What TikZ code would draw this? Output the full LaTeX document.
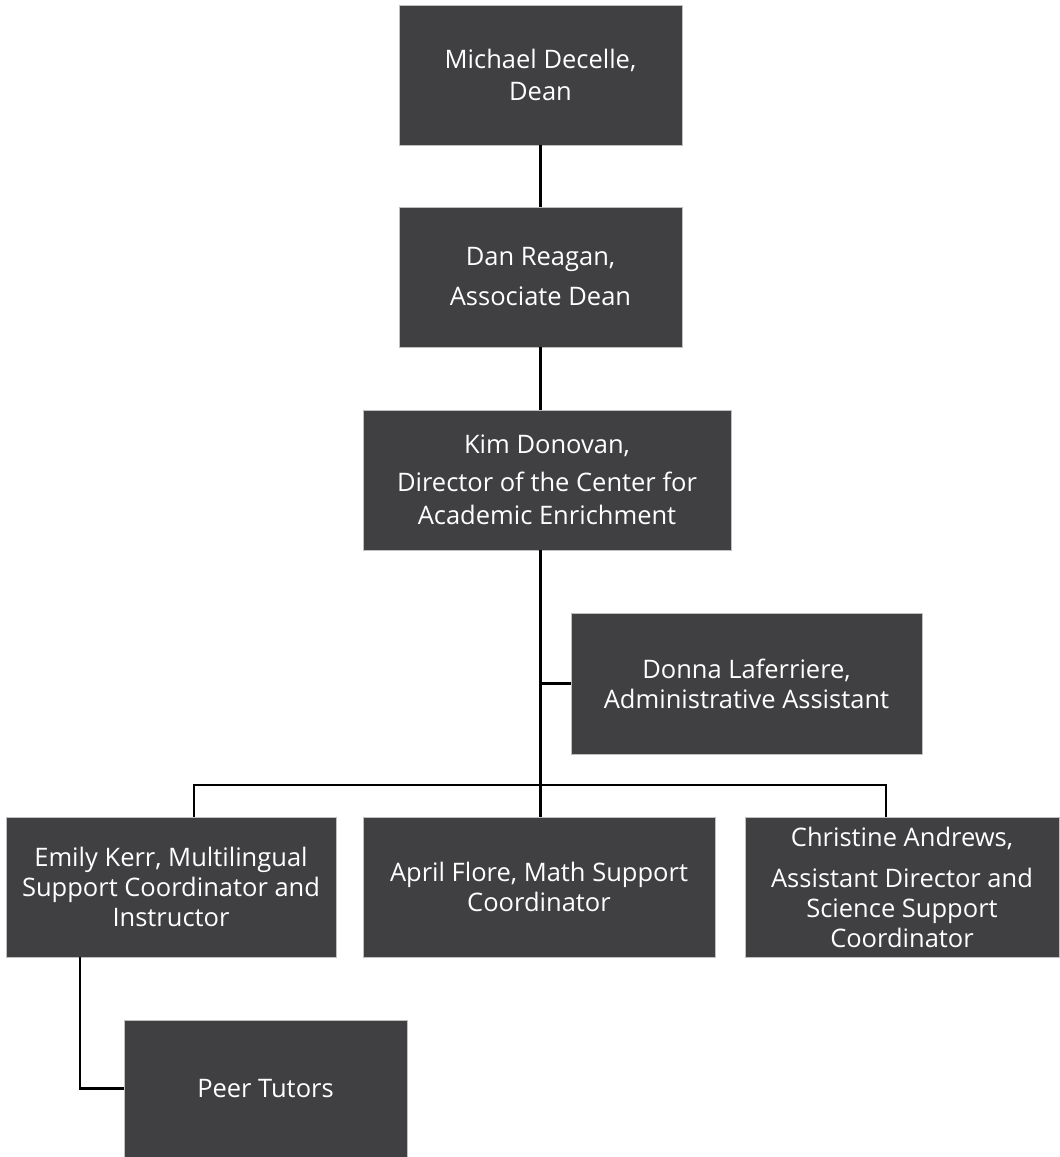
\documentclass[tikz,border=0pt]{standalone}
\usepackage{fontspec}
\setmainfont{Open Sans}
\definecolor{boxgray}{RGB}{64,64,66}
\begin{document}
\begin{tikzpicture}[x=1pt, y=-1pt,
  person/.style={fill=boxgray, draw=gray!50, line width=0.5pt, text=white,
    align=center, inner sep=0pt, minimum height=140pt,
    font=\fontsize{25.5}{30}\selectfont},
  link/.style={line width=2.4pt}]

  \useasboundingbox (0,0) rectangle (1060,1157);

  \node[person, minimum width=283pt] (dean) at (540.5,75) {Michael Decelle,\\[2pt]Dean};
  \node[person, minimum width=283pt] (assoc) at (540.5,277) {Dan Reagan,\\[10pt]Associate Dean};
  \node[person, minimum width=368pt] (director) at (547,480)
    {Kim Donovan,\\[8pt]Director of the Center for\\[3pt]Academic Enrichment};
  \node[person, minimum width=351pt, minimum height=141pt] (admin) at (746.5,683.5)
    {Donna Laferriere,\\Administrative Assistant};

  \node[person, minimum width=330pt] (emily) at (171,887)
    {Emily Kerr, Multilingual\\Support Coordinator and\\Instructor};
  \node[person, minimum width=352pt] (april) at (539,887)
    {April Flore, Math Support\\Coordinator};
  \node[person, minimum width=314pt] (christine) at (902,887)
    {Christine Andrews,\\[11pt]Assistant Director and\\Science Support\\Coordinator};

  \node[person, minimum width=283pt, minimum height=137pt] (peer) at (265.5,1088.5) {Peer Tutors};

  % taps on the connectors
  \coordinate (emilytap) at (194,785);
  \coordinate (christinetap) at (886,785);
  \coordinate (peertap) at (80,1088.5);

  \draw[link] (dean.south) -- (assoc.north);
  \draw[link] (assoc.south) -- (assoc.south |- director.north);
  \draw[link] (director.south -| dean.south) -- (april.north -| dean.south);
  \draw[link] (admin.west) -- (admin.west -| dean.south);

  \draw[link] (emilytap |- emily.north) -- (emilytap) -- (christinetap) -- (christinetap |- christine.north);
  \draw[link] (peertap |- emily.south) -- (peertap) -- (peer.west);

\end{tikzpicture}
\end{document}
